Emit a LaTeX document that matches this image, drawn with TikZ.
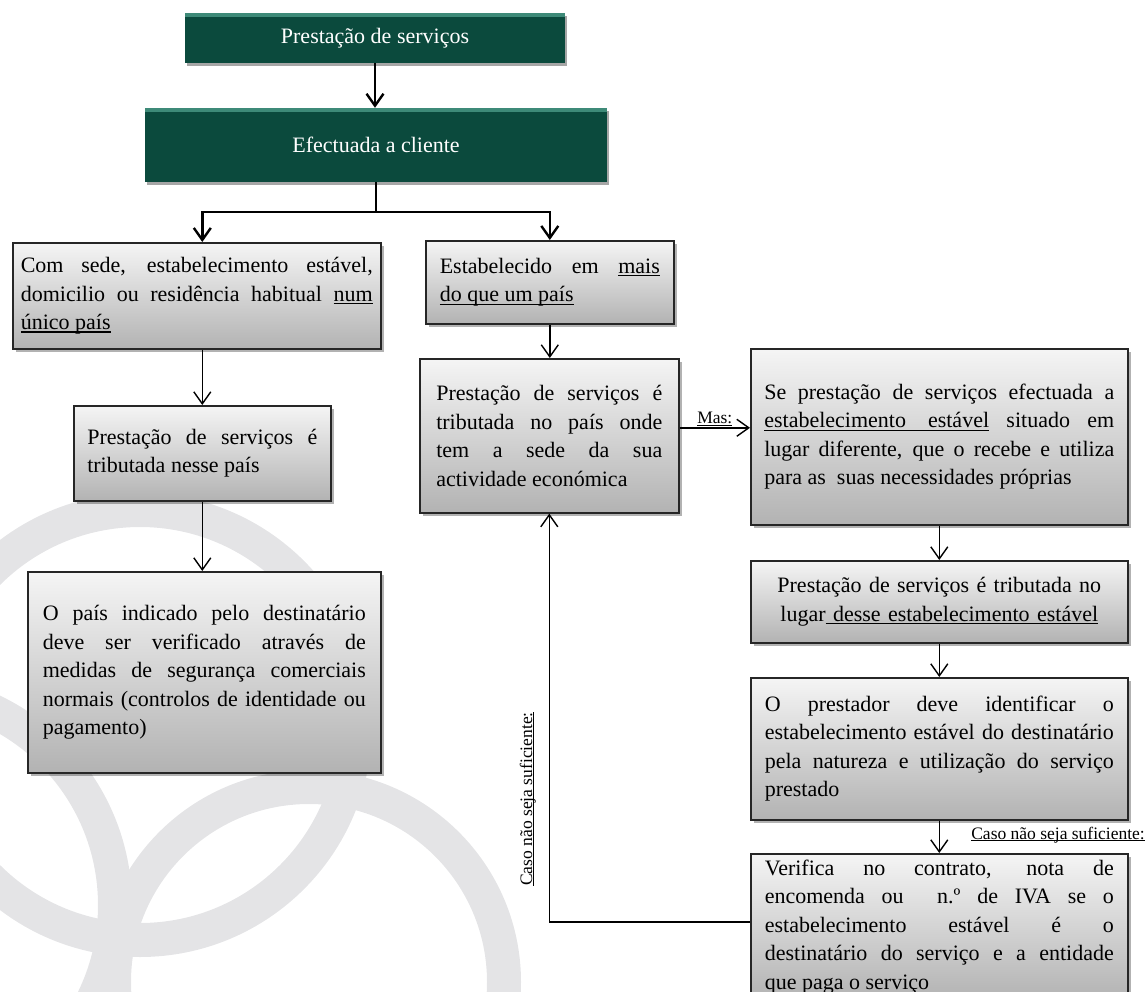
\documentclass[tikz,border=0pt]{standalone}
\usepackage{fontspec}
\setmainfont{Liberation Serif}
\usetikzlibrary{arrows.meta,shadows}
\definecolor{tealbox}{HTML}{0B4A3D}
\definecolor{tealhi}{HTML}{3E8A78}
\definecolor{ringgray}{HTML}{E4E4E6}
\newsavebox{\undlbox}
\newcommand{\undl}[1]{\sbox{\undlbox}{#1}\rlap{\rule[-0.14em]{\wd\undlbox}{0.055em}}\usebox{\undlbox}}
\hbadness=10000
\tolerance=10000

\begin{document}
\begin{tikzpicture}[x=1pt,y=-1pt,
  every node/.style={font=\fontsize{22}{28.5}\selectfont},
  greenbox/.style={fill=tealbox, text=white,
    drop shadow={shadow xshift=2pt,shadow yshift=-3pt,opacity=0.35,fill=black},
    path picture={\fill[tealhi] (path picture bounding box.north west) rectangle ([yshift=-4pt]path picture bounding box.north east);}},
  greybox/.style={draw=black!85, line width=1.6pt, top color=black!4, bottom color=black!30,
    drop shadow={shadow xshift=3pt,shadow yshift=-3pt,opacity=0.3,fill=black},
    align=justify, inner xsep=2pt, inner ysep=4pt, anchor=north west},
  conn/.style={line width=1.4pt, -{Straight Barb[length=12pt,width=17pt]}},
  thickconn/.style={conn, line width=2.4pt},
  ring/.style={draw=ringgray, line width=34pt},
  smalllabel/.style={font=\fontsize{17.5}{21}\selectfont, inner sep=1pt}]
  \useasboundingbox (0,0) rectangle (1148,992);
  \clip (0,0) rectangle (1148,992);

  \draw[ring] (140,725) circle [radius=215];
  \draw[ring] (-100,905) circle [radius=215];
  \draw[ring] (309,982) circle [radius=195];

  \node[greenbox, minimum width=380pt, minimum height=50pt] (prest) at (375,38) {Prestação de serviços};
  \node[greenbox, minimum width=462pt, minimum height=74pt] (efect) at (376,145) {Efectuada a cliente};

  \node[greybox, minimum width=368pt, minimum height=106pt, text width=352pt] (sede) at (12,242)
    {Com sede, estabelecimento estável,\linebreak domicilio ou residência habitual \undl{num}\linebreak \undl{único país}};
  \node[greybox, minimum width=257pt, minimum height=95pt, text width=230pt] (nesse) at (73,405)
    {Prestação de serviços é\linebreak tributada nesse país};
  \node[greybox, minimum width=353pt, minimum height=201pt, text width=323pt] (verif) at (27,571)
    {O país indicado pelo destinatário\linebreak deve ser verificado através de\linebreak medidas de segurança comerciais\linebreak normais (controlos de identidade ou\linebreak pagamento)};

  \node[greybox, minimum width=248pt, minimum height=83pt, text width=220pt] (estab) at (425,240)
    {Estabelecido em \undl{mais}\linebreak \undl{do que um país}};
  \node[greybox, minimum width=259pt, minimum height=154pt, text width=226pt] (sedeact) at (419,358)
    {Prestação de serviços é\linebreak tributada no país onde\linebreak tem a sede da sua\linebreak actividade económica};

  \node[greybox, minimum width=377pt, minimum height=176pt, text width=350pt] (lugar) at (750,348)
    {Se prestação de serviços efectuada a\linebreak \undl{estabelecimento\hspace{1em}estável} situado em\linebreak lugar diferente, que o recebe e utiliza\linebreak para as~ suas necessidades próprias};
  \node[greybox, align=center, minimum width=377pt, minimum height=82pt, text width=350pt] (tribl) at (750,560)
    {Prestação de serviços é tributada no\\ lugar\undl{ desse estabelecimento estável}};
  \node[greybox, minimum width=377pt, minimum height=142pt, text width=349pt] (ident) at (750,677)
    {O prestador deve identificar o\linebreak estabelecimento estável do destinatário\linebreak pela natureza e utilização do serviço\linebreak prestado};
  \node[greybox, minimum width=377pt, text width=349pt, inner ysep=6pt] (contr) at (750,853)
    {Verifica no contrato, nota de\linebreak encomenda ou~ n.º de IVA se o\linebreak estabelecimento estável é o\linebreak destinatário do serviço e a entidade\linebreak que paga o serviço};

  \coordinate (split) at ([yshift=-30pt]efect.south);
  \draw[thickconn] (prest.south) -- (prest.south |- efect.north);
  \draw[line width=2.4pt] (efect.south) -- (split);
  \draw[thickconn] (split) -| (sede.north -| nesse.north);
  \draw[thickconn] (split) -| (estab.north);

  \draw[conn] (sede.south -| nesse.north) -- (nesse.north);
  \draw[conn] (nesse.south) -- (nesse.south |- verif.north);
  \draw[conn] (estab.south) -- (estab.south |- sedeact.north);
  \draw[conn] ([yshift=8pt]sedeact.east) -- ([yshift=8pt]sedeact.east -| lugar.west)
    node[midway, above, smalllabel] (mas) {\undl{Mas:}};
  \draw[conn] (lugar.south) -- (tribl.north);
  \draw[conn] (tribl.south) -- (ident.north);
  \draw[conn] (ident.south) -- (contr.north);
  \draw[conn] ([yshift=-69pt]contr.north west) -| (sedeact.south);

  \node[smalllabel, anchor=base east] (casoR) at (1146,839) {\undl{Caso não seja suficiente:}};
  \node[smalllabel, rotate=90, anchor=base] (casoL) at (532,799) {\undl{Caso não seja suficiente:}};
\end{tikzpicture}
\end{document}
